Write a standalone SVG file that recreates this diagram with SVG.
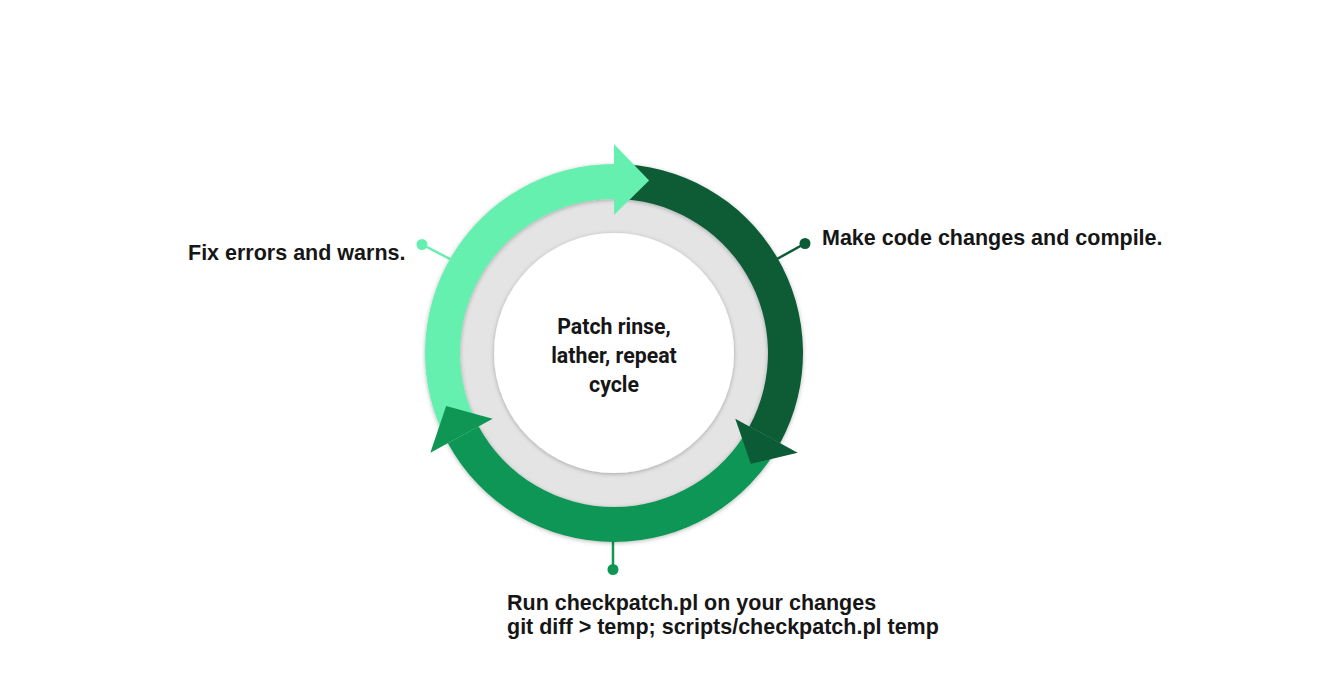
<svg xmlns="http://www.w3.org/2000/svg" width="1322" height="692" viewBox="0 0 1322 692">
  <defs>
    <filter id="sh" x="-20%" y="-20%" width="140%" height="140%">
      <feDropShadow dx="0" dy="1" stdDeviation="2" flood-color="#000" flood-opacity="0.28"/>
    </filter>
    <style>
      .lbl { font-family: "Liberation Sans", Arial, sans-serif; font-weight: 700; font-size: 21.5px; fill: #161616; }
      .ctr { font-family: Roboto, "Liberation Sans", sans-serif; font-weight: 700; font-size: 21.3px; fill: #161616; text-anchor: middle; }
      .light { fill: #66F0B0; }
      .dark { fill: #0B5C36; }
      .mid { fill: #109654; }
    </style>
  </defs>
  <rect width="1322" height="692" fill="#ffffff"/>

  <g id="ring">
    <circle cx="614" cy="353" r="162" fill="#E4E4E4" filter="url(#sh)"/>
    <circle cx="614" cy="353" r="120" fill="#ffffff" filter="url(#sh)"/>
  </g>

  <g id="connectors">
    <line x1="422" y1="244.5" x2="450" y2="259" stroke="#66F0B0" stroke-width="2.5"/>
    <circle cx="422" cy="244.5" r="5.5" fill="#66F0B0"/>
    <line x1="805" y1="243.5" x2="777" y2="259" stroke="#0B5C36" stroke-width="2.5"/>
    <circle cx="805" cy="243.5" r="5.5" fill="#0B5C36"/>
    <line x1="613" y1="540" x2="613" y2="569" stroke="#109654" stroke-width="2.5"/>
    <circle cx="613" cy="569.5" r="5.5" fill="#109654"/>
  </g>

  <g id="bands" filter="url(#sh)">
    <path id="band-light" class="light" d="M 447.91 443.19 A 189 189 0 0 1 614 164 L 614 199 A 154 154 0 0 0 478.66 426.49 Z"/>
    <path id="band-dark" class="dark" d="M 614 164 A 189 189 0 0 1 780.09 443.19 L 749.34 426.49 A 154 154 0 0 0 614 199 Z"/>
    <path id="band-mid" class="mid" d="M 780.09 443.19 A 189 189 0 0 1 447.91 443.19 L 478.66 426.49 A 154 154 0 0 0 749.34 426.49 Z"/>
  </g>

  <g id="heads">
    <polygon id="head-light" class="light" points="614,144 649.1,180.5 614,215"/>
    <polygon id="head-dark" class="dark" points="797.67,452.73 750.8,463.8 735.27,418.85"/>
    <polygon id="head-mid" class="mid" points="430.33,452.73 446.15,405.93 492.73,418.85"/>
  </g>

  <g id="center-label">
    <text class="ctr" x="614" y="334">Patch rinse,</text>
    <text class="ctr" x="614" y="363">lather, repeat</text>
    <text class="ctr" x="614" y="392">cycle</text>
  </g>

  <g id="node-fix">
    <text class="lbl" x="188" y="260">Fix errors and warns.</text>
  </g>
  <g id="node-make">
    <text class="lbl" x="822" y="245">Make code changes and compile.</text>
  </g>
  <g id="node-run">
    <text class="lbl" x="507" y="610">Run checkpatch.pl on your changes</text>
    <text class="lbl" x="507" y="634">git diff &gt; temp; scripts/checkpatch.pl temp</text>
  </g>
</svg>
